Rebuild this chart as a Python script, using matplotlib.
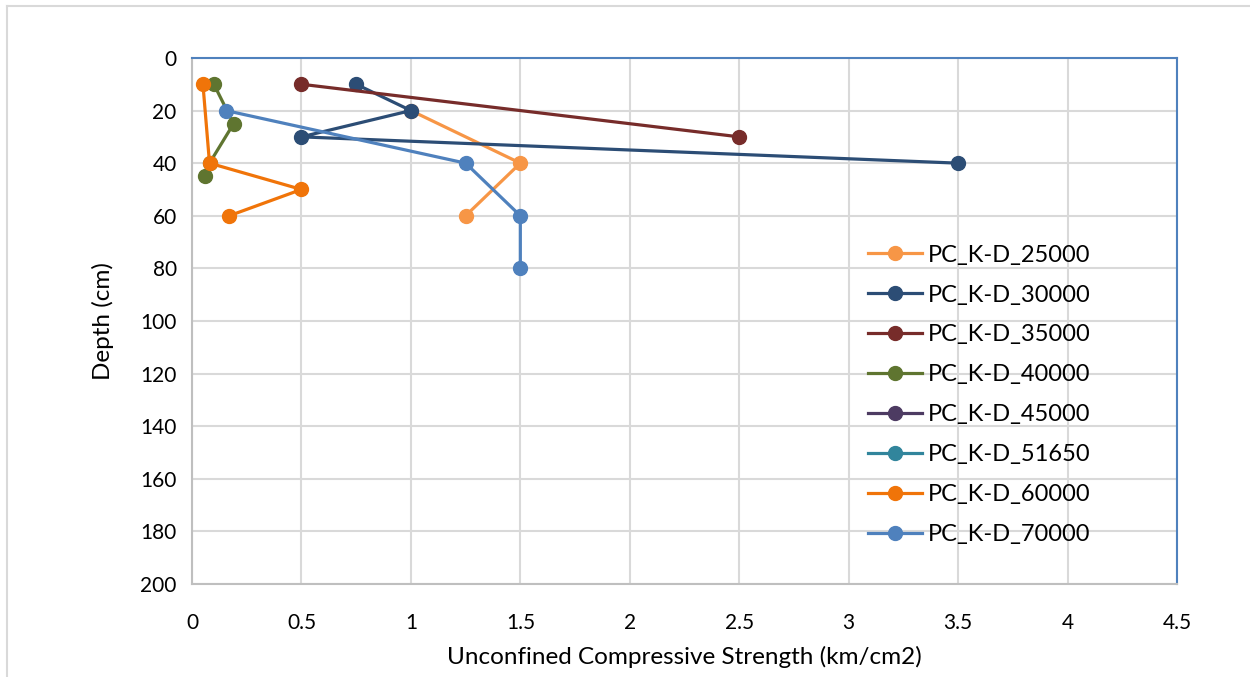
import matplotlib.pyplot as plt
from matplotlib.lines import Line2D

plt.rcParams["font.family"] = ["Lato", "DejaVu Sans"]

series_names = [
    "PC_K-D_25000", "PC_K-D_30000", "PC_K-D_35000", "PC_K-D_40000",
    "PC_K-D_45000", "PC_K-D_51650", "PC_K-D_60000", "PC_K-D_70000",
]
series_colors = [
    "#F79646", "#2C4D75", "#772C2A", "#5F7530",
    "#4D3B62", "#31859C", "#F07409", "#4F81BD",
]

# strength (km/cm2) and depth (cm) per test
ucs_25000 = [1.0, 1.5, 1.25]
depth_25000 = [20, 40, 60]
ucs_30000 = [0.75, 1.0, 0.5, 3.5]
depth_30000 = [10, 20, 30, 40]
ucs_35000 = [0.5, 2.5]
depth_35000 = [10, 30]
ucs_40000 = [0.1, 0.19, 0.08, 0.06]
depth_40000 = [10, 25, 40, 45]
ucs_45000 = []
depth_45000 = []
ucs_51650 = []
depth_51650 = []
ucs_60000 = [0.05, 0.08, 0.5, 0.17]
depth_60000 = [10, 40, 50, 60]
ucs_70000 = [0.155, 1.25, 1.5, 1.5]
depth_70000 = [20, 40, 60, 80]

x_values = [ucs_25000, ucs_30000, ucs_35000, ucs_40000,
            ucs_45000, ucs_51650, ucs_60000, ucs_70000]
y_values = [depth_25000, depth_30000, depth_35000, depth_40000,
            depth_45000, depth_51650, depth_60000, depth_70000]

fig = plt.figure(figsize=(12.5, 6.77), dpi=100)
ax = fig.add_axes([0.1536, 0.1374, 0.788, 0.777])

for name, color, xs, ys in zip(series_names, series_colors, x_values, y_values):
    ax.plot(xs, ys, color=color, linewidth=2.3, marker="o", markersize=10,
            label=name, zorder=3)

ax.set_xlim(0, 4.5)
ax.set_ylim(200, 0)
ax.set_xticks([0, 0.5, 1, 1.5, 2, 2.5, 3, 3.5, 4, 4.5])
ax.set_xticklabels(["0", "0.5", "1", "1.5", "2", "2.5", "3", "3.5", "4", "4.5"])
ax.set_yticks(range(0, 201, 20))
ax.grid(True, color="#D9D9D9", linewidth=1.5, zorder=0)
ax.tick_params(length=0, labelsize=15, colors="#000000")
ax.tick_params(axis="x", pad=21)
ax.tick_params(axis="y", pad=11)

for side in ["top", "right"]:
    ax.spines[side].set_color("#4F81BD")
    ax.spines[side].set_linewidth(1.5)
for side in ["left", "bottom"]:
    ax.spines[side].set_color("#BFBFBF")
    ax.spines[side].set_linewidth(1.5)

ax.set_xlabel("Unconfined Compressive Strength (km/cm2)", fontsize=17.5, labelpad=9)
ax.set_ylabel("Depth (cm)", fontsize=17.5, labelpad=19)

handles = [Line2D([], [], color=c, linewidth=2.3, marker="o", markersize=10)
           for c in series_colors]
ax.legend(handles, series_names, loc="upper left", bbox_to_anchor=(0.686, 0.645),
          frameon=False, fontsize=17, handlelength=2.3, handletextpad=0.25,
          labelspacing=0.8, borderaxespad=0, borderpad=0)

# chart area frame
fig.add_artist(Line2D([0.0056, 0.0056], [0.0, 0.991], color="#D9D9D9",
                      linewidth=1.5, transform=fig.transFigure))
fig.add_artist(Line2D([0.0056, 1.0], [0.991, 0.991], color="#D9D9D9",
                      linewidth=1.5, transform=fig.transFigure))

fig.savefig("out.png", dpi=100)
